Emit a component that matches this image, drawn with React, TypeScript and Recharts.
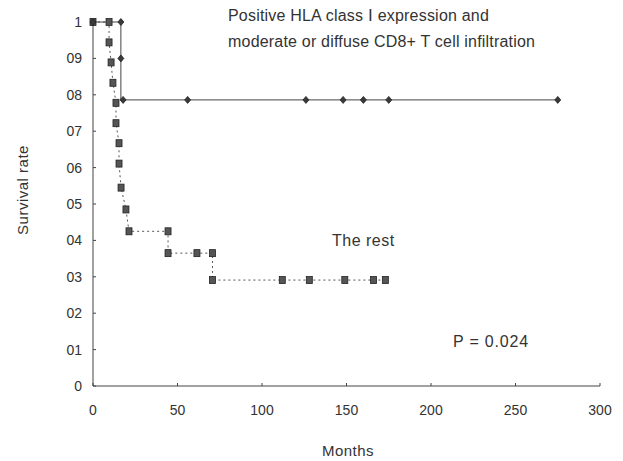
/* Kaplan-Meier style survival curves: HLA class I / CD8+ group vs the rest. */

import { Line, LineChart, XAxis, YAxis } from "recharts";

const hlaMonths = [0, 16.5, 16.5, 16.5, 17.8, 56, 126, 148, 160, 175, 275];
const hlaSurvival = [1, 1, 0.9, 0.786, 0.786, 0.786, 0.786, 0.786, 0.786, 0.786, 0.786];

const restMonths = [
  0, 9.5, 9.5, 10.7, 11.8, 13.6, 13.6, 15.4, 15.4, 16.6, 19.5, 21.3, 44.4, 44.4, 61.5, 70.7, 70.7, 112, 128, 149,
  166, 173,
];
const restSurvival = [
  1, 1, 0.944, 0.889, 0.833, 0.778, 0.722, 0.667, 0.611, 0.545, 0.485, 0.425, 0.425, 0.365, 0.365, 0.365, 0.291,
  0.291, 0.291, 0.291, 0.291, 0.291,
];

const monthTicks = [0, 50, 100, 150, 200, 250, 300];
const rateTicks = [0, 0.1, 0.2, 0.3, 0.4, 0.5, 0.6, 0.7, 0.8, 0.9, 1];
const rateTickLabels = ["0", "01", "02", "03", "04", "05", "06", "07", "08", "09", "1"];

const hlaData = hlaMonths.map((t, i) => ({ t, s: hlaSurvival[i] }));
const restData = restMonths.map((t, i) => ({ t, s: restSurvival[i] }));

const FONT = '"Liberation Sans", Arial, sans-serif';
const INK = "#333";

const DiamondDot = (props: any) => {
  const { cx, cy, index } = props;
  // the corner point of the drop carries no marker
  if (cx == null || cy == null || index === 3) return <g key={`d-${index}`} />;
  return (
    <path
      key={`d-${index}`}
      d={`M${cx},${cy - 3.5} L${cx + 3},${cy} L${cx},${cy + 3.5} L${cx - 3},${cy} Z`}
      fill="#3a3a3a"
      stroke="#222"
      strokeWidth={0.8}
    />
  );
};

const SquareDot = (props: any) => {
  const { cx, cy, index } = props;
  if (cx == null || cy == null) return <g key={`s-${index}`} />;
  return (
    <rect
      key={`s-${index}`}
      x={cx - 3}
      y={cy - 3.5}
      width={6}
      height={7}
      fill="#555"
      stroke="#222"
      strokeWidth={0.8}
    />
  );
};

const textStyle = { position: "absolute" as const, fontFamily: FONT, color: INK, whiteSpace: "nowrap" as const };

export default function App() {
  return (
    <div style={{ position: "absolute", left: 0, top: 0, width: 623, height: 461, background: "#fff" }}>
      <LineChart width={623} height={461} margin={{ top: 22, right: 23, bottom: 35, left: 0 }}>
        <XAxis
          type="number"
          dataKey="t"
          domain={[0, 300]}
          ticks={monthTicks}
          height={40}
          stroke="#444"
          tickSize={-3}
          tickMargin={22}
          tick={{ fill: INK, fontSize: 14, fontFamily: FONT }}
        />
        <YAxis
          type="number"
          dataKey="s"
          domain={[0, 1]}
          ticks={rateTicks}
          width={93}
          stroke="#444"
          tickSize={-3}
          tickMargin={14}
          tickFormatter={(v: number) => rateTickLabels[rateTicks.indexOf(v)] ?? ""}
          tick={{ fill: INK, fontSize: 14, fontFamily: FONT }}
        />
        <Line
          data={restData}
          dataKey="s"
          type="linear"
          stroke="#555"
          strokeWidth={1}
          strokeDasharray="2 3"
          dot={SquareDot}
          isAnimationActive={false}
        />
        <Line
          data={hlaData}
          dataKey="s"
          type="linear"
          stroke="#444"
          strokeWidth={1}
          dot={DiamondDot}
          isAnimationActive={false}
        />
      </LineChart>
      <div style={{ ...textStyle, left: 228, top: 3, fontSize: 16, lineHeight: "26px", letterSpacing: 0.2 }}>
        Positive HLA class Ⅰ expression and
        <br />
        moderate or diffuse CD8+ T cell infiltration
      </div>
      <div style={{ ...textStyle, left: 332, top: 232, fontSize: 16, letterSpacing: 0.5 }}>The rest</div>
      <div style={{ ...textStyle, left: 453, top: 333, fontSize: 16, letterSpacing: 0.8 }}>P = 0.024</div>
      <div style={{ ...textStyle, left: 348, top: 442, fontSize: 15, letterSpacing: 0.5, transform: "translateX(-50%)" }}>
        Months
      </div>
      <div
        style={{
          ...textStyle,
          left: 22,
          top: 190,
          fontSize: 15,
          letterSpacing: 0.5,
          transform: "translate(-50%, -50%) rotate(-90deg)",
        }}
      >
        Survival rate
      </div>
    </div>
  );
}
